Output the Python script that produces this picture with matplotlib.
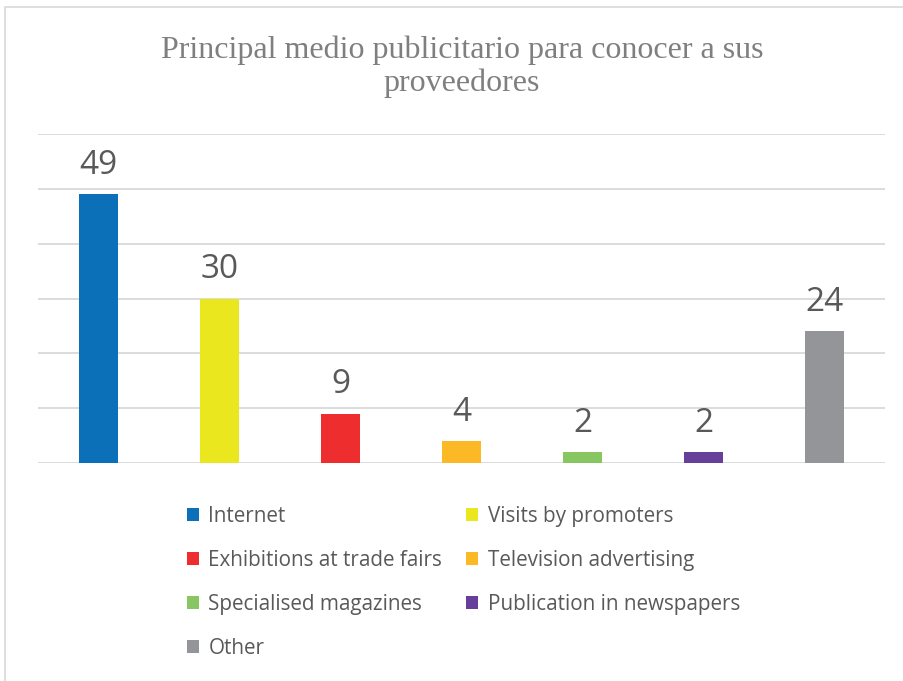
import matplotlib.pyplot as plt
from matplotlib.patches import Patch, Rectangle

categories = ['Internet', 'Visits by promoters', 'Exhibitions at trade fairs',
              'Television advertising', 'Specialised magazines',
              'Publication in newspapers', 'Other']
values = [49, 30, 9, 4, 2, 2, 24]
colors = ['#0B70B8', '#EBE71E', '#EE2E2E', '#FBB925', '#88C661', '#653F99', '#939598']
title = 'Principal medio publicitario para conocer a sus\nproveedores'

fig = plt.figure(figsize=(9.04, 6.81), dpi=100)
fig.patches.append(Rectangle((5 / 904, -0.1), 1.1, 1 - 7 / 681 + 0.1,
                             transform=fig.transFigure, fill=False,
                             edgecolor='#d9d9d9', linewidth=1.2))

ax = fig.add_axes([38 / 904, 1 - 463 / 681, (885 - 38) / 904, (463 - 134) / 681])
x = list(range(len(values)))
bars = ax.bar(x, values, width=0.315, color=colors, zorder=3)
ax.set_xlim(-0.5, len(values) - 0.5)
ax.set_ylim(0, 60)
ax.set_yticks(range(0, 61, 10))
ax.yaxis.grid(True, color='#d9d9d9', linewidth=1.3, zorder=0)
ax.tick_params(left=False, bottom=False, labelleft=False, labelbottom=False)
for s in ax.spines.values():
    s.set_visible(False)

for b, v in zip(bars, values):
    ax.annotate(str(v), (b.get_x() + b.get_width() / 2, v), xytext=(0, 9),
                textcoords='offset points', ha='center', va='bottom',
                fontsize=24, color='#595959', family='Open Sans')

fig.text(0.511, 1 - 67 / 681, title, ha='center', va='center', fontsize=23,
         color='#7f7f7f', family='Liberation Serif', linespacing=1.16)

# row-wise order in a two column legend
order = [0, 2, 4, 6, 1, 3, 5]
handles = [Patch(facecolor=colors[i], edgecolor='none') for i in order]
labels = [categories[i] for i in order]
leg = fig.legend(handles, labels, ncol=2, loc='upper left',
                 bbox_to_anchor=(168 / 904, 1 - 487 / 681), frameon=False,
                 prop={'family': 'Open Sans', 'size': 14.9},
                 handlelength=0.6, handleheight=0.6, handletextpad=0.45,
                 columnspacing=1.15, labelspacing=1.11)
for t in leg.get_texts():
    t.set_color('#595959')

fig.savefig('out.png', dpi=100)
